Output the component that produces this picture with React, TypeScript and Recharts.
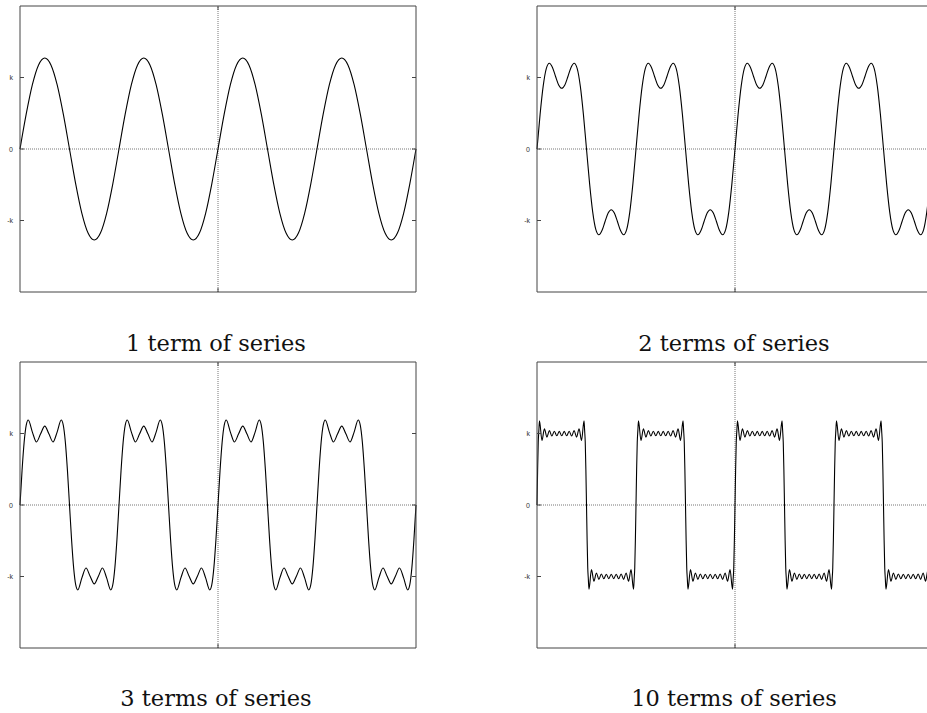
import { LineChart, Line, XAxis, YAxis, ReferenceLine } from "recharts";

// One full period of each partial sum. Phase in degrees, value in units of k.
const PHASE_1 = [0, 22.5, 45, 67.5, 90, 112.5, 135, 157.5, 180, 202.5, 225, 247.5, 270, 292.5, 315, 337.5];
const VALUE_1 = [0, 0.487, 0.9, 1.176, 1.273, 1.176, 0.9, 0.487, 0, -0.487, -0.9, -1.176, -1.273, -1.176, -0.9, -0.487];

const PHASE_2 = [
  0, 11.25, 22.5, 33.75, 45, 56.25, 67.5, 78.75, 90, 101.25, 112.5, 123.75, 135, 146.25, 157.5, 168.75,
  180, 191.25, 202.5, 213.75, 225, 236.25, 247.5, 258.75, 270, 281.25, 292.5, 303.75, 315, 326.25, 337.5, 348.75,
];
const VALUE_2 = [
  0, 0.484, 0.879, 1.124, 1.2, 1.141, 1.014, 0.896, 0.849, 0.896, 1.014, 1.141, 1.2, 1.124, 0.879, 0.484,
  0, -0.484, -0.879, -1.124, -1.2, -1.141, -1.014, -0.896, -0.849, -0.896, -1.014, -1.141, -1.2, -1.124, -0.879, -0.484,
];

const PHASE_3 = [
  0, 7.5, 15, 22.5, 30, 45, 60, 75, 90, 105, 120, 135, 150, 157.5, 165, 172.5,
  180, 187.5, 195, 202.5, 210, 225, 240, 255, 270, 285, 300, 315, 330, 337.5, 345, 352.5,
];
const VALUE_3 = [
  0, 0.484, 0.876, 1.115, 1.188, 1.02, 0.882, 0.996, 1.103, 0.996, 0.882, 1.02, 1.188, 1.115, 0.876, 0.484,
  0, -0.484, -0.876, -1.115, -1.188, -1.02, -0.882, -0.996, -1.103, -0.996, -0.882, -1.02, -1.188, -1.115, -0.876, -0.484,
];

const PHASE_10 = [
  0, 2.25, 4.5, 6.75, 9, 18, 27, 36, 45, 54, 63, 72, 81, 90, 99, 108, 117, 126, 135, 144, 153, 162, 171, 173.25, 175.5, 177.75,
  180, 182.25, 184.5, 186.75, 189, 198, 207, 216, 225, 234, 243, 252, 261, 270, 279, 288, 297, 306, 315, 324, 333, 342, 351,
  353.25, 355.5, 357.75,
];
const VALUE_10 = [
  0, 0.49, 0.873, 1.04, 1.179, 0.903, 1.066, 0.95, 1.04, 0.965, 1.032, 0.968, 1.03, 0.968, 1.03, 0.968, 1.032, 0.965, 1.04,
  0.95, 1.066, 0.903, 1.179, 1.04, 0.873, 0.49,
  0, -0.49, -0.873, -1.04, -1.179, -0.903, -1.066, -0.95, -1.04, -0.965, -1.032, -0.968, -1.03, -0.968, -1.03, -0.968,
  -1.032, -0.965, -1.04, -0.95, -1.066, -0.903, -1.179, -1.04, -0.873, -0.49,
];

const PERIOD_STARTS = [-720, -360, 0, 360];
const X_DOMAIN = [-720, 720];
const Y_DOMAIN = [-2, 2];
const X_TICKS = [0];
const Y_TICKS = [-1, 0, 1];
const Y_TICK_LABELS = ["-k", "0", "k"];
const CAPTIONS = ["1 term of series", "2 terms of series", "3 terms of series", "10 terms of series"];

const FRAME = "#444";
const PLOT_W = 396;
const PLOT_H = 286;

type Pt = { x: number; y: number };

// lay the period end to end across the four periods shown
function buildSeries(phase: number[], value: number[]): Pt[] {
  const pts = PERIOD_STARTS.flatMap((start) => phase.map((p, i) => ({ x: start + p, y: value[i] })));
  pts.push({ x: X_DOMAIN[1], y: value[0] });
  return pts;
}

const tickFont = { fontFamily: "'Liberation Sans', Arial, sans-serif", fontSize: 7, fill: "#333" };

const LeftTick = ({ x, y, payload }: any) => (
  <g>
    <line x1={x} x2={x + 4} y1={y} y2={y} stroke={FRAME} />
    <text x={x - 7} y={y} textAnchor="end" dominantBaseline="central" {...tickFont}>
      {Y_TICK_LABELS[Y_TICKS.indexOf(payload.value)]}
    </text>
  </g>
);
const RightTick = ({ x, y }: any) => <line x1={x} x2={x - 4} y1={y} y2={y} stroke={FRAME} />;
const BottomTick = ({ x, y }: any) => <line x1={x} x2={x} y1={y} y2={y - 4} stroke={FRAME} />;
const TopTick = ({ x, y }: any) => <line x1={x} x2={x} y1={y} y2={y + 4} stroke={FRAME} />;

function Panel({ left, top, data }: { left: number; top: number; data: Pt[] }) {
  return (
    <div style={{ position: "absolute", left, top }}>
      <LineChart
        width={20 + PLOT_W + 10}
        height={6 + PLOT_H + 8}
        data={data}
        margin={{ top: 5, right: 9, bottom: 7, left: 0 }}
      >
        <XAxis
          dataKey="x"
          type="number"
          domain={X_DOMAIN}
          ticks={X_TICKS}
          height={1}
          tickSize={0}
          tickMargin={0}
          tick={BottomTick}
          tickLine={false}
          axisLine={{ stroke: FRAME }}
        />
        <XAxis
          xAxisId="top"
          orientation="top"
          dataKey="x"
          type="number"
          domain={X_DOMAIN}
          ticks={X_TICKS}
          height={1}
          tickSize={0}
          tickMargin={0}
          tick={TopTick}
          tickLine={false}
          axisLine={{ stroke: FRAME }}
        />
        <YAxis
          type="number"
          domain={Y_DOMAIN}
          ticks={Y_TICKS}
          width={20}
          tickSize={0}
          tickMargin={0}
          tick={LeftTick}
          tickLine={false}
          axisLine={{ stroke: FRAME }}
        />
        <YAxis
          yAxisId="right"
          orientation="right"
          type="number"
          domain={Y_DOMAIN}
          ticks={Y_TICKS}
          width={1}
          tickSize={0}
          tickMargin={0}
          tick={RightTick}
          tickLine={false}
          axisLine={{ stroke: FRAME }}
        />
        <ReferenceLine y={0} stroke="#777" strokeDasharray="1 1" />
        <ReferenceLine x={0} stroke="#777" strokeDasharray="1 1" />
        <Line
          dataKey="y"
          type="monotone"
          stroke="#000"
          strokeWidth={1.1}
          dot={false}
          activeDot={false}
          isAnimationActive={false}
        />
        {/* bind the top and right axes to the same curve so they draw */}
        <Line
          dataKey="y"
          xAxisId="top"
          yAxisId="right"
          type="monotone"
          stroke="none"
          dot={false}
          activeDot={false}
          isAnimationActive={false}
        />
      </LineChart>
    </div>
  );
}

export default function App() {
  const series = [
    buildSeries(PHASE_1, VALUE_1),
    buildSeries(PHASE_2, VALUE_2),
    buildSeries(PHASE_3, VALUE_3),
    buildSeries(PHASE_10, VALUE_10),
  ];
  const cols = [0, 517];
  const rows = [0, 356];
  const captionX = [216, 734];
  const captionY = [351, 706];

  return (
    <div
      style={{
        position: "absolute",
        left: 0,
        top: 0,
        width: 927,
        height: 713,
        overflow: "hidden",
        background: "#fff",
      }}
    >
      {series.map((data, i) => (
        <Panel key={i} left={cols[i % 2]} top={rows[Math.floor(i / 2)]} data={data} />
      ))}
      <svg width={927} height={713} style={{ position: "absolute", left: 0, top: 0, pointerEvents: "none" }}>
        {CAPTIONS.map((c, i) => (
          <text
            key={c}
            x={captionX[i % 2]}
            y={captionY[Math.floor(i / 2)]}
            textAnchor="middle"
            fontFamily="'DejaVu Serif', serif"
            fontSize={22.5}
            fill="#111"
          >
            {c}
          </text>
        ))}
      </svg>
    </div>
  );
}
